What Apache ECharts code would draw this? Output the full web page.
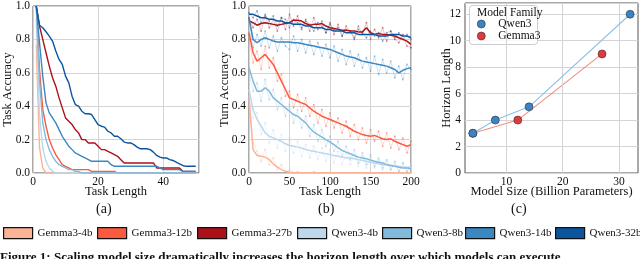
<!DOCTYPE html>
<html><head><meta charset="utf-8">
<script src="https://cdn.jsdelivr.net/npm/echarts@6/dist/echarts.min.js"></script>
<style>html,body{margin:0;padding:0;background:#fff}#c{width:640px;height:259px}</style>
</head><body><div id="c"></div>
<script>
// ---------- Panel (a): task accuracy vs task length ----------
const taskLen = [1,2,3,4,5,6,7,8,9,10,11,12,13,14,15,16,17,18,19,20,21,22,23,24,25,26,27,28,29,30,31,32,33,34,35,36,37,38,39,40,41,42,43,44,45,46,47,48,49,50];
const accG4  = [0.77,0.15,0.03,0,0,0,0,0,0,0,0,0,0,0,0,0,0,0,0,0,0,0,0,0,0,0,0,0,0,0,0,0,0,0,0,0,0,0,0,0,0,0,0,0,0,0,0,0,0,0];
const accG12 = [1.0,0.62,0.38,0.28,0.20,0.15,0.11,0.08,0.05,0.04,0.03,0.02,0.02,0.02,0.02,0.02,0.02,0.01,0.01,0.01,0.01,0.01,0.01,0.01,0.01,0,0,0,0,0,0,0,0,0,0,0,0,0,0,0,0,0,0,0,0,0,0,0,0,0];
const accG27 = [1.0,0.88,0.80,0.72,0.64,0.57,0.52,0.45,0.39,0.33,0.31,0.29,0.26,0.24,0.20,0.20,0.18,0.18,0.18,0.16,0.14,0.14,0.13,0.12,0.11,0.10,0.08,0.06,0.06,0.06,0.06,0.06,0.06,0.06,0.06,0.06,0.06,0.03,0.03,0.03,0.03,0.03,0.03,0.03,0.03,0.01,0.01,0.01,0.01,0.01];
const accQ4  = [0.92,0.35,0.15,0.07,0.03,0.01,0,0,0,0,0,0,0,0,0,0,0,0,0,0,0,0,0,0,0,0,0,0,0,0,0,0,0,0,0,0,0,0,0,0,0,0,0,0,0,0,0,0,0,0];
const accQ8  = [1.0,0.55,0.30,0.20,0.14,0.10,0.07,0.05,0.04,0.03,0.02,0.02,0.01,0.01,0,0,0,0,0,0,0,0,0,0,0,0,0,0,0,0,0,0,0,0,0,0,0,0,0,0,0,0,0,0,0,0,0,0,0,0];
const accQ14 = [1.0,0.78,0.58,0.42,0.36,0.33,0.30,0.26,0.22,0.19,0.16,0.14,0.12,0.11,0.10,0.09,0.08,0.07,0.07,0.07,0.07,0.07,0.07,0.05,0.04,0.04,0.04,0.04,0.04,0.04,0.04,0.04,0.04,0.04,0.04,0.04,0.04,0.04,0.03,0.02,0.02,0.02,0.02,0.02,0.02,0.01,0.01,0.01,0.01,0.01];
const accQ32 = [1.0,0.885,0.87,0.846,0.82,0.79,0.73,0.68,0.65,0.58,0.54,0.46,0.41,0.40,0.37,0.355,0.355,0.35,0.32,0.29,0.28,0.275,0.25,0.24,0.22,0.22,0.205,0.185,0.18,0.18,0.17,0.155,0.145,0.145,0.145,0.14,0.125,0.105,0.095,0.09,0.09,0.08,0.075,0.065,0.055,0.045,0.04,0.04,0.04,0.04];

// ---------- Panel (b): turn accuracy vs task length ----------
const turnX = [0,5,10,15,20,25,30,35,40,45,50,55,60,65,70,75,80,85,90,95,100,105,110,115,120,125,130,135,140,145,150,155,160,165,170,175,180,185,190,195,200];
const smG4  = [0.45,0.14,0.105,0.10,0.095,0.08,0.055,0.035,0.02,0.01,0.005,0.003,0.002,0.002,0.002,0.002,0.002,0.002,0.002,0.002,0.002,0.002,0.002,0.002,0.002,0.002,0.002,0.002,0.002,0.002,0.002,0.002,0.002,0.002,0.002,0.002,0.002,0.002,0.002,0.002,0.002];
const smG12 = [0.84,0.72,0.67,0.69,0.71,0.68,0.65,0.60,0.55,0.50,0.45,0.44,0.43,0.42,0.41,0.39,0.37,0.355,0.34,0.33,0.32,0.31,0.30,0.29,0.28,0.265,0.25,0.24,0.23,0.225,0.22,0.225,0.215,0.205,0.20,0.205,0.19,0.18,0.17,0.16,0.17];
const smG27 = [0.91,0.90,0.885,0.895,0.90,0.895,0.89,0.885,0.89,0.895,0.90,0.915,0.915,0.91,0.895,0.885,0.89,0.89,0.895,0.88,0.87,0.865,0.86,0.855,0.855,0.85,0.85,0.845,0.845,0.87,0.84,0.83,0.835,0.83,0.83,0.825,0.82,0.81,0.80,0.79,0.77];
const smQ4  = [0.50,0.38,0.32,0.28,0.24,0.22,0.21,0.20,0.19,0.175,0.165,0.16,0.155,0.15,0.14,0.135,0.13,0.125,0.12,0.115,0.11,0.105,0.10,0.095,0.09,0.09,0.085,0.08,0.075,0.07,0.065,0.06,0.055,0.05,0.05,0.045,0.04,0.04,0.035,0.035,0.035];
const smQ8  = [0.63,0.55,0.49,0.49,0.51,0.49,0.45,0.43,0.41,0.39,0.37,0.35,0.34,0.32,0.30,0.27,0.245,0.23,0.215,0.20,0.185,0.17,0.15,0.135,0.125,0.115,0.105,0.095,0.09,0.085,0.077,0.07,0.065,0.06,0.05,0.045,0.04,0.035,0.03,0.03,0.025];
const smQ14 = [0.93,0.80,0.78,0.80,0.81,0.80,0.79,0.785,0.785,0.785,0.785,0.78,0.78,0.775,0.77,0.765,0.76,0.755,0.75,0.745,0.74,0.73,0.72,0.71,0.70,0.695,0.69,0.68,0.67,0.665,0.66,0.655,0.65,0.645,0.64,0.63,0.62,0.60,0.615,0.625,0.63];
const smQ32 = [0.95,0.95,0.94,0.93,0.93,0.92,0.92,0.91,0.91,0.90,0.90,0.89,0.89,0.89,0.88,0.88,0.87,0.87,0.87,0.86,0.86,0.85,0.85,0.85,0.84,0.84,0.84,0.83,0.83,0.83,0.83,0.83,0.82,0.82,0.82,0.83,0.83,0.83,0.82,0.82,0.81];
// raw per-length values (estimated scatter)
const rawG4  = [0.40,0.18,0.13,0.07,0.14,0.05,0.09,0.02,0.05,0.01,0.02,0.00,0.01,0.00,0.00,0.00,0.01,0.00,0.00,0.00,0.00,0.00,0.00,0.00,0.00,0.00,0.00,0.00,0.00,0.00,0.00,0.00,0.00,0.00,0.00,0.00,0.00,0.00,0.00,0.00,0.00];
const rawG12 = [0.80,0.66,0.73,0.62,0.76,0.63,0.69,0.55,0.59,0.46,0.49,0.39,0.47,0.37,0.45,0.34,0.41,0.30,0.38,0.28,0.36,0.27,0.33,0.24,0.31,0.22,0.29,0.20,0.27,0.18,0.26,0.19,0.25,0.16,0.24,0.15,0.22,0.14,0.21,0.12,0.19];
const rawG27 = [0.93,0.87,0.92,0.85,0.94,0.87,0.92,0.85,0.93,0.86,0.95,0.88,0.94,0.87,0.92,0.85,0.93,0.86,0.91,0.84,0.90,0.83,0.89,0.82,0.88,0.85,0.81,0.88,0.83,0.90,0.80,0.86,0.81,0.87,0.79,0.85,0.80,0.78,0.83,0.76,0.75];
const rawQ4  = [0.46,0.33,0.36,0.23,0.30,0.18,0.26,0.15,0.23,0.13,0.21,0.12,0.19,0.10,0.17,0.09,0.16,0.08,0.15,0.07,0.14,0.06,0.13,0.05,0.12,0.05,0.11,0.04,0.10,0.03,0.09,0.03,0.08,0.02,0.07,0.02,0.06,0.01,0.06,0.01,0.05];
const rawQ8  = [0.60,0.49,0.54,0.43,0.56,0.44,0.50,0.38,0.45,0.34,0.41,0.30,0.38,0.27,0.34,0.22,0.29,0.19,0.26,0.16,0.22,0.13,0.19,0.10,0.16,0.08,0.14,0.06,0.12,0.05,0.11,0.04,0.09,0.03,0.08,0.02,0.07,0.01,0.06,0.01,0.04];
const rawQ14 = [0.92,0.75,0.83,0.76,0.85,0.75,0.82,0.73,0.81,0.76,0.74,0.82,0.73,0.80,0.72,0.79,0.71,0.78,0.70,0.77,0.69,0.76,0.67,0.74,0.65,0.73,0.64,0.71,0.63,0.69,0.61,0.70,0.59,0.68,0.60,0.67,0.57,0.64,0.56,0.65,0.62];
const rawQ32 = [0.96,0.93,0.97,0.90,0.95,0.91,0.94,0.88,0.93,0.92,0.87,0.92,0.90,0.86,0.91,0.89,0.85,0.90,0.88,0.84,0.89,0.86,0.87,0.82,0.86,0.85,0.80,0.86,0.84,0.81,0.85,0.82,0.84,0.79,0.84,0.85,0.81,0.84,0.80,0.83,0.80];

// ---------- Panel (c): horizon length vs model size ----------
const qwenSize = [4,8,14,32];
const qwenHorizon = [3,4,5,12];
const gemmaSize = [4,12,27];
const gemmaHorizon = [3,4,9];

const names = ['Gemma3-4b','Gemma3-12b','Gemma3-27b','Qwen3-4b','Qwen3-8b','Qwen3-14b','Qwen3-32b'];
const colors = ['#fcb499','#fb5a3f','#ad1118','#bdd7ec','#82badb','#3a87c2','#0b559f'];
const accA = [accG4,accG12,accG27,accQ4,accQ8,accQ14,accQ32];
const smB = [smG4,smG12,smG27,smQ4,smQ8,smQ14,smQ32];
const rawB = [rawG4,rawG12,rawG27,rawQ4,rawQ8,rawQ14,rawQ32];

const FONT = 'Liberation Serif';
const zip = (xs, ys) => xs.map((x,i)=>[x, ys[i]]);

const grids = [
  {left:31, top:4, width:168, height:169},
  {left:249, top:4, width:162, height:169},
  {left:465, top:3, width:173, height:170}
].map(g=>Object.assign(g,{show:true, borderColor:'#555', borderWidth:1, backgroundColor:'transparent'}));

const axLabel = {fontFamily:FONT, fontSize:11.5, color:'#111'};
const split = {show:true, lineStyle:{color:'#d4d4d4', width:1}};
const nameStyle = {fontFamily:FONT, fontSize:12.5, color:'#111'};
const nm = {nameLocation:'middle', nameMoveOverlap:false, nameTextStyle:nameStyle};

const xAxes = [
  Object.assign({gridIndex:0, type:'value', min:0, max:51, interval:20, axisLine:{show:false}, axisTick:{show:false}, splitLine:split,
   axisLabel:Object.assign({margin:3, showMaxLabel:false}, axLabel), name:'Task Length', nameGap:12}, nm),
  Object.assign({gridIndex:1, type:'value', min:0, max:200, interval:50, axisLine:{show:false}, axisTick:{show:false}, splitLine:split,
   axisLabel:Object.assign({margin:3}, axLabel), name:'Task Length', nameGap:12}, nm),
  Object.assign({gridIndex:2, type:'value', min:2.6, max:33.4, axisLine:{show:false}, axisTick:{show:false, customValues:[10,20,30]}, splitLine:{show:false},
   axisLabel:Object.assign({margin:3, customValues:[10,20,30]}, axLabel), name:'Model Size (Billion Parameters)', nameGap:12}, nm)
];
const yAxes = [
  Object.assign({gridIndex:0, type:'value', min:0, max:1, interval:0.2, axisLine:{show:false}, axisTick:{show:false}, splitLine:split,
   axisLabel:Object.assign({margin:3, formatter:v=>v.toFixed(1)}, axLabel), name:'Task Accuracy', nameGap:19}, nm),
  Object.assign({gridIndex:1, type:'value', min:0, max:1, interval:0.2, axisLine:{show:false}, axisTick:{show:false}, splitLine:split,
   axisLabel:Object.assign({margin:3, formatter:v=>v.toFixed(1)}, axLabel), name:'Turn Accuracy', nameGap:18}, nm),
  Object.assign({gridIndex:2, type:'value', min:0, max:12.85, interval:2, axisLine:{show:false}, axisTick:{show:false}, splitLine:split,
   axisLabel:Object.assign({margin:4, showMaxLabel:false}, axLabel), name:'Horizon Length', nameGap:12}, nm)
];

const series = [];
names.forEach((n,i)=>{
  series.push({name:n, type:'line', xAxisIndex:0, yAxisIndex:0, data:zip(taskLen, accA[i]), showSymbol:false, symbol:'none',
    lineStyle:{color:colors[i], width:1.4}, itemStyle:{color:colors[i]}, animation:false, z:2+i});
});
names.forEach((n,i)=>{
  series.push({name:'raw '+n, type:'line', xAxisIndex:1, yAxisIndex:1, data:zip(turnX, rawB[i]), symbol:'circle', symbolSize:1.8,
    lineStyle:{color:colors[i], width:0.7, opacity:0.35}, itemStyle:{color:colors[i], opacity:0.5}, animation:false, z:1});
});
names.forEach((n,i)=>{
  series.push({name:n, type:'line', xAxisIndex:1, yAxisIndex:1, data:zip(turnX, smB[i]), showSymbol:false, symbol:'none',
    lineStyle:{color:colors[i], width:1.5}, itemStyle:{color:colors[i]}, animation:false, z:3+i});
});
// gridlines for panel (c) x axis
series.push({name:'gridc', type:'line', xAxisIndex:2, yAxisIndex:2, data:[], silent:true,
  markLine:{silent:true, symbol:'none', label:{show:false}, lineStyle:{color:'#d4d4d4', width:1, type:'solid'}, animation:false,
    data:[{xAxis:10},{xAxis:20},{xAxis:30}]}, z:0});
series.push({name:'Qwen3', type:'line', xAxisIndex:2, yAxisIndex:2, data:zip(qwenSize, qwenHorizon), symbol:'circle', symbolSize:8,
  lineStyle:{color:'#8cc0e4', width:1.1}, itemStyle:{color:'#3a84c6', borderColor:'#333', borderWidth:0.6}, animation:false, z:5});
series.push({name:'Gemma3', type:'line', xAxisIndex:2, yAxisIndex:2, data:zip(gemmaSize, gemmaHorizon), symbol:'circle', symbolSize:8,
  lineStyle:{color:'#f28b80', width:1.1}, itemStyle:{color:'#e0393e', borderColor:'#333', borderWidth:0.6}, animation:false, z:4});

const legBase = {top:227, padding:0, orient:'horizontal', icon:'rect', itemWidth:29, itemHeight:11, itemGap:3,
  itemStyle:{borderColor:'#111', borderWidth:1.2}, textStyle:{fontFamily:FONT, fontSize:11, color:'#111'}, selectedMode:false};
const legLeft = [3, 97, 197, 297, 382, 465, 555];

const chart = echarts.init(document.getElementById('c'), null, {renderer:'canvas'});
chart.setOption({
  animation:false,
  backgroundColor:'#fff',
  grid:grids, xAxis:xAxes, yAxis:yAxes, series:series,
  legend: names.map((n,i)=>Object.assign({data:[n], left:legLeft[i]}, legBase)).concat([
    {data:['Qwen3','Gemma3'], left:477, top:18, padding:0, z:20, orient:'vertical', icon:'circle', itemWidth:8, itemHeight:8, itemGap:0,
     itemStyle:{borderColor:'#333', borderWidth:0.6}, textStyle:{fontFamily:FONT, fontSize:11.5, color:'#111', padding:[0,0,0,8]}, selectedMode:false}
  ]),
  graphic:[
    {type:'rect', left:469, top:5, z:1, shape:{width:68, height:39, r:3}, style:{fill:'rgba(255,255,255,0.85)', stroke:'#ccc', lineWidth:1}},
    {type:'text', left:477, top:7, z:2, style:{text:'Model Family', font:'11.5px "Liberation Serif"', fill:'#111'}},
    {type:'text', left:96, top:202, style:{text:'(a)', font:'14px "Liberation Serif"', fill:'#111'}},
    {type:'text', left:318, top:202, style:{text:'(b)', font:'14px "Liberation Serif"', fill:'#111'}},
    {type:'text', left:511, top:202, style:{text:'(c)', font:'14px "Liberation Serif"', fill:'#111'}},
    {type:'text', left:0, top:251, style:{text:'Figure 1: Scaling model size dramatically increases the horizon length over which models can execute.', font:'bold 13px "Liberation Serif"', fill:'#111'}}
  ]
});
</script></body></html>
